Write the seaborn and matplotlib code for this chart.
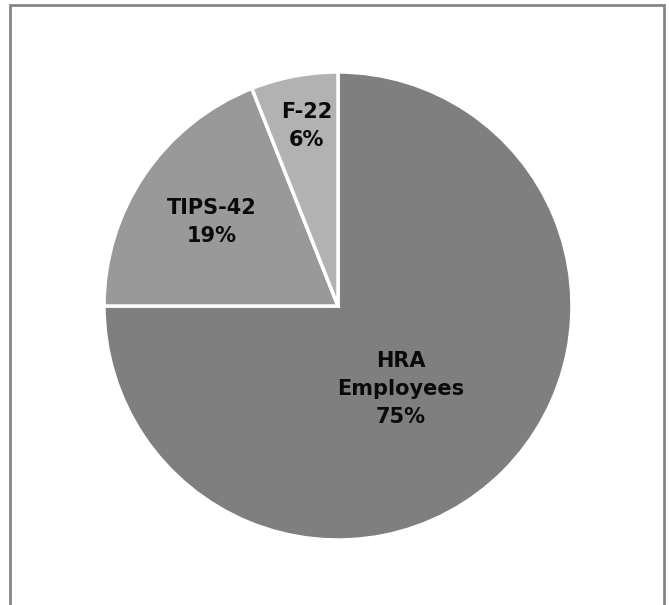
import numpy as np
import matplotlib
matplotlib.use("Agg")
import matplotlib.pyplot as plt
from matplotlib.patches import Rectangle
import seaborn as sns

sns.set_theme(style="white")
plt.rcParams["font.family"] = ["DejaVu Sans"]

categories = ["HRA\nEmployees", "TIPS-42", "F-22"]
shares = [75, 19, 6]
colors = ["#7f7f7f", "#999999", "#b2b2b2"]
# radial distance and angular nudge (degrees) of each slice label
label_radius = [0.445, 0.65, 0.78]
label_turn = [-8, 0.5, -1]

W, H = 669, 605
fig = plt.figure(figsize=(W / 100, H / 100), dpi=100)

# outer frame (open at the bottom edge)
fig.add_artist(Rectangle((10 / W, -0.02), (664 - 10) / W, (H - 5) / H + 0.02,
                         transform=fig.transFigure, fill=False,
                         edgecolor="#868686", linewidth=2))

cx, cy, r = 338, 306, 234
ax = fig.add_axes([(cx - r) / W, (H - cy - r) / H, 2 * r / W, 2 * r / H])
wedges, _ = ax.pie(shares, colors=colors, startangle=90, counterclock=False,
                   radius=1.0,
                   wedgeprops=dict(edgecolor="white", linewidth=2.5))
ax.set_xlim(-1, 1)
ax.set_ylim(-1, 1)
ax.set_aspect("equal")
ax.axis("off")

for w, name, pct, rr, dt in zip(wedges, categories, shares, label_radius, label_turn):
    mid = np.deg2rad((w.theta1 + w.theta2) / 2 + dt)
    ax.text(rr * np.cos(mid), rr * np.sin(mid), f"{name}\n{pct}%",
            ha="center", va="center", fontsize=15, fontweight="bold",
            color="#0a0a0a", linespacing=1.5)

fig.savefig("out.png", dpi=100, facecolor="white")
